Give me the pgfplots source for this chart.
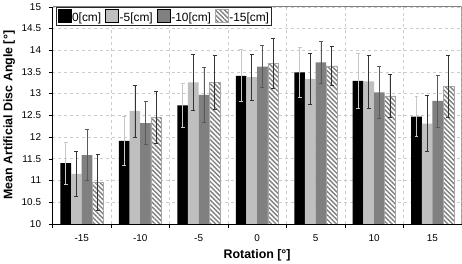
\documentclass[border=0pt]{standalone}
\usepackage{fontspec}
\setmainfont{Liberation Sans}
\usepackage{pgfplots}
\usepackage{pgfplotstable}
\pgfplotsset{compat=1.18}
\usetikzlibrary{patterns.meta}

\pgfplotstableread{
x y e
0 11.40 0.48
1 11.91 0.56
2 12.73 0.50
3 13.41 0.60
4 13.49 0.58
5 13.29 0.64
6 12.47 0.46
}\sA
\pgfplotstableread{
x y e
0 11.15 0.52
1 12.60 0.60
2 13.26 0.65
3 13.38 0.53
4 13.34 0.58
5 13.28 0.61
6 12.31 0.64
}\sB
\pgfplotstableread{
x y e
0 11.58 0.59
1 12.32 0.49
2 12.97 0.63
3 13.62 0.48
4 13.72 0.49
5 13.03 0.60
6 12.83 0.60
}\sC
\pgfplotstableread{
x y e
0 10.96 0.65
1 12.45 0.60
2 13.26 0.63
3 13.70 0.58
4 13.64 0.44
5 12.95 0.50
6 13.16 0.71
}\sD

\begin{document}
\begin{tikzpicture}
\begin{axis}[
  scale only axis,
  width=411bp, height=218bp,
  ybar=0pt, bar width=10.7bp,
  xmin=-0.5, xmax=6.5,
  ymin=10, ymax=15,
  xtick={0,1,2,3,4,5,6},
  xticklabels={-15,-10,-5,0,5,10,15},
  minor xtick={-0.5,0.5,1.5,2.5,3.5,4.5,5.5,6.5},
  major x tick style={draw=none},
  minor x tick style={black},
  minor tick length=4bp,
  xminorgrids=true,
  ytick={10,10.5,...,15},
  yticklabels={10,10.5,11,11.5,12,12.5,13,13.5,14,14.5,15},
  ymajorgrids=true,
  major y tick style={black},
  major tick length=4bp,
  tick align=outside,
  tick pos=left,
  grid style={dashed, gray!40, line width=0.5bp},
  minor grid style={dashed, gray!40, line width=0.5bp},
  axis x line*=bottom, axis y line*=left,
  axis line style={black, line width=0.6bp},
  ticklabel style={font=\fontsize{10}{12}\selectfont},
  xticklabel style={yshift=-3bp},
  yticklabel style={xshift=-4bp},
  xlabel={\textbf{Rotation [°]}},
  ylabel={\textbf{Mean Artificial Disc Angle [°]}},
  label style={font=\fontsize{12.5}{14}\selectfont},
  xlabel style={yshift=-1bp},
  ylabel style={yshift=0bp},
  legend columns=4,
  legend style={at={(rel axis cs:0.008,0.997)}, anchor=north west,
    draw=black!85, line width=0.6bp, inner sep=1.5bp,
    font=\fontsize{12}{14}\selectfont,
    nodes={inner sep=1bp},
    /tikz/every even column/.append style={column sep=3bp}},
  legend image code/.code={\draw[#1] (0bp,-4.5bp) rectangle (13bp,8.5bp);},
  error bars/error bar style={line width=0.7bp},
  error bars/error mark options={rotate=90, mark size=2bp, line width=0.7bp},
]
\addplot[fill=black, draw=none,
  error bars/.cd, y dir=both, y explicit, error bar style={color=black!22}]
  table[x=x, y=y, y error=e] {\sA};
\addplot[fill=black!25, draw=none,
  error bars/.cd, y dir=both, y explicit, error bar style={color=black!80}]
  table[x=x, y=y, y error=e] {\sB};
\addplot[fill=black!50, draw=none,
  error bars/.cd, y dir=both, y explicit, error bar style={color=black!65}]
  table[x=x, y=y, y error=e] {\sC};
\addplot[fill=white, draw=black!35, line width=0.4bp,
  postaction={pattern={Lines[angle=-45,distance=3.3bp,line width=1.4bp]}, pattern color=black!50},
  error bars/.cd, y dir=both, y explicit, error bar style={color=black!80}]
  table[x=x, y=y, y error=e] {\sD};
\legend{0[cm],-5[cm],-10[cm],-15[cm]}
\draw[black!50, line width=0.6bp] (rel axis cs:0,1) -- (rel axis cs:1,1) -- (rel axis cs:1,0);
\end{axis}
\end{tikzpicture}
\end{document}
